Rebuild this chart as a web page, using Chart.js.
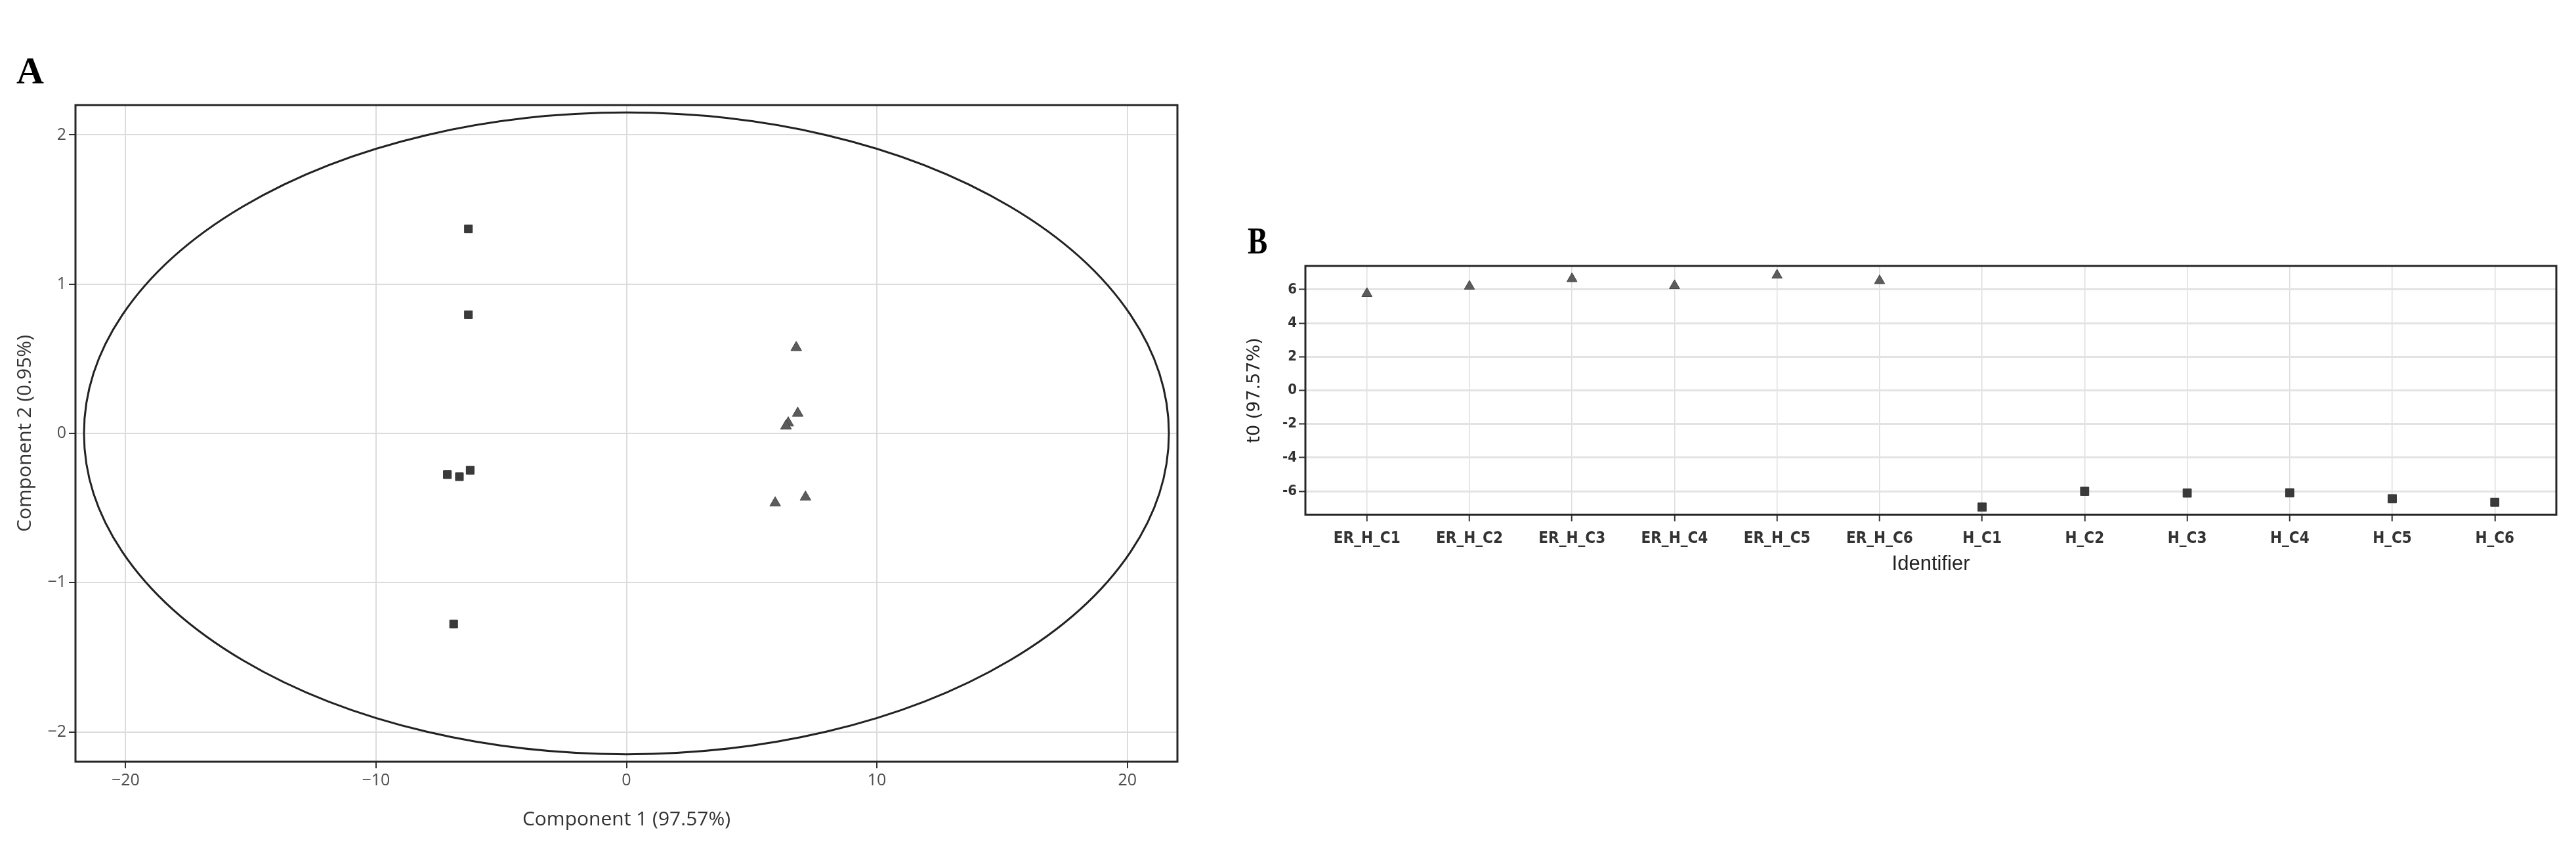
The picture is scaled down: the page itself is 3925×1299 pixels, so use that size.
<!DOCTYPE html>
<html>
<head>
<meta charset="utf-8">
<script src="https://cdn.jsdelivr.net/npm/chart.js@4.4.1/dist/chart.umd.min.js"></script>
<style>
  html, body { margin:0; padding:0; background:#ffffff; }
  body { width:3925px; height:1299px; position:relative; overflow:hidden; }
  canvas { position:absolute; }
  .panel { position:absolute; font-family:"Liberation Serif","Times New Roman",serif; font-weight:bold; font-size:58px; line-height:1; color:#000; }
</style>
</head>
<body>
<div class="panel" id="labA" style="left:25px; top:79px;">A</div>
<div class="panel" id="labB" style="left:1901px; top:338px; transform:scaleX(0.78); transform-origin:left top;">B</div>
<canvas id="chartA" width="1850" height="1299" style="left:0px; top:0px; width:1850px; height:1299px;"></canvas>
<canvas id="chartB" width="2075" height="650" style="left:1850px; top:300px; width:2075px; height:650px;"></canvas>
<script>
// ---------- Panel A data (score plot) ----------
const groupH_x  = [-6.31, -6.31, -7.15, -6.67, -6.24, -6.90];
const groupH_y  = [ 1.37,  0.795, -0.276, -0.29, -0.247, -1.277];
const groupER_x = [ 6.78,  6.84,  6.46,  6.37,  5.94,  7.15];
const groupER_y = [ 0.575, 0.135, 0.07,  0.05, -0.466, -0.427];
const ellipseCenter = [0, 0];
const ellipseRadii  = [21.66, 2.15];
const aXTicks = [-20, -10, 0, 10, 20];
const aXTickLabels = ['\u221220', '\u221210', '0', '10', '20'];
const aYTicks = [-2, -1, 0, 1, 2];
const aYTickLabels = ['\u22122', '\u22121', '0', '1', '2'];
const aXRange = [-22, 22];
const aYRange = [-2.2, 2.2];

// ---------- Panel B data (t0 by identifier) ----------
const categories = ['ER_H_C1','ER_H_C2','ER_H_C3','ER_H_C4','ER_H_C5','ER_H_C6','H_C1','H_C2','H_C3','H_C4','H_C5','H_C6'];
const erValues = [5.76, 6.19, 6.64, 6.23, 6.85, 6.52];
const hValues  = [-6.94, -6.00, -6.10, -6.09, -6.44, -6.65];
const bYTicks = [-6, -4, -2, 0, 2, 4, 6];
const bYTickLabels = ['-6', '-4', '-2', '0', '2', '4', '6'];
const bYRange = [-7.4, 7.4];

const frameBox = {
  id: 'frameBox',
  afterDraw(chart) {
    const {ctx, chartArea: a} = chart;
    ctx.save();
    ctx.strokeStyle = '#262626';
    ctx.lineWidth = 3;
    ctx.strokeRect(a.left, a.top, a.right - a.left, a.bottom - a.top);
    ctx.restore();
  }
};

const ellipsePlugin = {
  id: 'ellipsePlugin',
  beforeDatasetsDraw(chart) {
    const {ctx, scales: {x, y}} = chart;
    const cx = x.getPixelForValue(ellipseCenter[0]);
    const cy = y.getPixelForValue(ellipseCenter[1]);
    const rx = Math.abs(x.getPixelForValue(ellipseCenter[0] + ellipseRadii[0]) - cx);
    const ry = Math.abs(y.getPixelForValue(ellipseCenter[1] + ellipseRadii[1]) - cy);
    ctx.save();
    ctx.beginPath();
    ctx.ellipse(cx, cy, rx, ry, 0, 0, Math.PI * 2);
    ctx.strokeStyle = '#222222';
    ctx.lineWidth = 3;
    ctx.stroke();
    ctx.restore();
  }
};

const fontA = {family: '"Open Sans", "DejaVu Sans", sans-serif', size: 25};
const titleFontA = {family: '"Open Sans", "DejaVu Sans", sans-serif', size: 30};

new Chart(document.getElementById('chartA'), {
  type: 'scatter',
  data: {
    datasets: [
      {
        label: 'H',
        data: groupH_x.map((v, i) => ({x: v, y: groupH_y[i]})),
        pointStyle: 'rect',
        pointRadius: 8.5,
        backgroundColor: '#3a3a3a',
        borderColor: '#2e2e2e',
        borderWidth: 1
      },
      {
        label: 'ER_H',
        data: groupER_x.map((v, i) => ({x: v, y: groupER_y[i]})),
        pointStyle: 'triangle',
        pointRadius: 9.5,
        backgroundColor: '#5c5c5c',
        borderColor: '#444444',
        borderWidth: 1
      }
    ]
  },
  options: {
    responsive: false,
    animation: false,
    devicePixelRatio: 1,
    events: [],
    layout: {padding: {left: 0, right: 56, top: 160, bottom: 0}},
    plugins: {legend: {display: false}, tooltip: {enabled: false}},
    scales: {
      x: {
        type: 'linear',
        min: aXRange[0], max: aXRange[1],
        afterFit(s) { s.height = 139; },
        afterBuildTicks(s) { s.ticks = aXTicks.map(v => ({value: v})); },
        ticks: {
          callback: (v, i) => aXTickLabels[i],
          font: fontA, color: '#4d4d4d', padding: 4, maxRotation: 0, autoSkip: false
        },
        grid: {color: '#dcdcdc', lineWidth: 2, tickColor: '#333333', tickLength: 10, tickWidth: 2},
        border: {display: false},
        title: {display: true, text: 'Component 1 (97.57%)', font: titleFontA, color: '#333333', padding: {top: 0, bottom: 33}}
      },
      y: {
        type: 'linear',
        min: aYRange[0], max: aYRange[1],
        afterFit(s) { s.width = 115; },
        afterBuildTicks(s) { s.ticks = aYTicks.map(v => ({value: v})); },
        ticks: {
          callback: (v, i) => aYTickLabels[i],
          font: fontA, color: '#4d4d4d', padding: 4, autoSkip: false
        },
        grid: {color: '#dcdcdc', lineWidth: 2, tickColor: '#333333', tickLength: 10, tickWidth: 2},
        border: {display: false},
        title: {display: true, text: 'Component 2 (0.95%)', font: titleFontA, color: '#333333', padding: {top: 20, bottom: 0}}
      }
    }
  },
  plugins: [ellipsePlugin, frameBox]
});

const fontBTicksY = {family: '"DejaVu Sans Condensed", "DejaVu Sans", sans-serif', size: 22, weight: 'bold'};
const fontBTicksX = {family: '"DejaVu Sans Condensed", "DejaVu Sans", sans-serif', size: 24, weight: 'bold'};

new Chart(document.getElementById('chartB'), {
  type: 'scatter',
  data: {
    datasets: [
      {
        label: 'ER_H',
        data: erValues.map((v, i) => ({x: categories.indexOf('ER_H_C' + (i + 1)), y: v})),
        pointStyle: 'triangle',
        pointRadius: 9,
        backgroundColor: '#5c5c5c',
        borderColor: '#444444',
        borderWidth: 1
      },
      {
        label: 'H',
        data: hValues.map((v, i) => ({x: categories.indexOf('H_C' + (i + 1)), y: v})),
        pointStyle: 'rect',
        pointRadius: 9,
        backgroundColor: '#3a3a3a',
        borderColor: '#2e2e2e',
        borderWidth: 1
      }
    ]
  },
  options: {
    responsive: false,
    animation: false,
    devicePixelRatio: 1,
    events: [],
    layout: {padding: {left: 0, right: 30, top: 105, bottom: 0}},
    plugins: {legend: {display: false}, tooltip: {enabled: false}},
    scales: {
      x: {
        type: 'linear',
        min: -0.6, max: categories.length - 0.4,
        afterFit(s) { s.height = 166; },
        afterBuildTicks(s) { s.ticks = categories.map((c, i) => ({value: i})); },
        ticks: {
          callback: (v, i) => categories[i],
          font: fontBTicksX, color: '#333333', padding: 12, maxRotation: 0, autoSkip: false
        },
        grid: {color: '#dddddd', lineWidth: 1.5, tickColor: '#333333', tickLength: 10, tickWidth: 2},
        border: {display: false},
        title: {display: true, text: 'Identifier', font: {family: '"Liberation Sans Narrow", "Liberation Sans", sans-serif', size: 31}, color: '#222222', padding: {top: 0, bottom: 72}}
      },
      y: {
        type: 'linear',
        min: bYRange[0], max: bYRange[1],
        afterFit(s) { s.width = 139; },
        afterBuildTicks(s) { s.ticks = bYTicks.map(v => ({value: v})); },
        ticks: {
          callback: (v, i) => bYTickLabels[i],
          font: fontBTicksY, color: '#333333', padding: 3, autoSkip: false
        },
        grid: {color: '#e3e3e3', lineWidth: 3, tickColor: '#333333', tickLength: 10, tickWidth: 2},
        border: {display: false},
        title: {display: true, text: 't0 (97.57%)', font: {family: '"DejaVu Sans", sans-serif', size: 27}, color: '#222222', padding: {top: 46, bottom: 0}}
      }
    }
  },
  plugins: [frameBox]
});
</script>
</body>
</html>
